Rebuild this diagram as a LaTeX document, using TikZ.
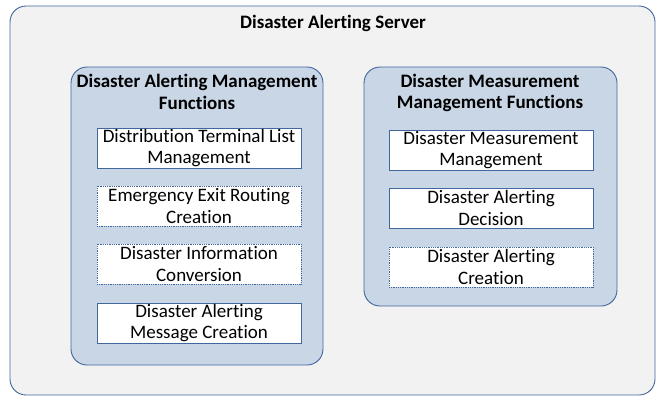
\documentclass[tikz,border=0pt]{standalone}
\usepackage{fontspec}
\setmainfont{Carlito}[Ligatures={NoCommon}]
\usepackage{xcolor}
\usepackage{tikz}
\usetikzlibrary{positioning}
\definecolor{EdgeBlue}{HTML}{41679C}
\definecolor{PanelBlue}{HTML}{C9D6E6}
\definecolor{ServerGray}{HTML}{F2F2F2}

\tikzset{
  server/.style={draw=EdgeBlue, fill=ServerGray, rounded corners=16pt, line width=0.9pt},
  panel/.style={draw=EdgeBlue, fill=PanelBlue, rounded corners=16pt, line width=0.9pt},
  fnbox/.style={draw=EdgeBlue, fill=white, line width=0.8pt, minimum width=204pt,
    minimum height=40pt, inner sep=0pt, align=center},
  fnboxdot/.style={fnbox, densely dotted},
  heading/.style={font=\fontsize{19}{21.5}\selectfont\bfseries, align=center, inner sep=0pt}
}

\begin{document}
\begin{tikzpicture}[x=1pt, y=-1pt, font=\fontsize{19}{21.5}\selectfont]
    \useasboundingbox (0,0) rectangle (657,397);
    % outer server
    \draw[server] (10,6) rectangle (655,395);
    \node[heading] (srv) at (333,23) {Disaster Alerting Server};
    % left panel
    \draw[panel] (71,67) rectangle (323,365);
    \node[heading] (almgmt) at (197,92) {Disaster Alerting Management\\Functions};
    \node[fnbox] (termlist) at (199,148) {Distribution Terminal List\\Management};
    \node[fnboxdot] (exitroute) at (199,206) {Emergency Exit Routing\\Creation};
    \node[fnboxdot] (infoconv) at (199,264) {Disaster Information\\Conversion};
    \node[fnbox] (msgcreate) at (199,323) {Disaster Alerting\\Message Creation};
    % right panel
    \draw[panel] (364,67) rectangle (617,306);
    \node[heading] (msmgmt) at (490,93) {Disaster Measurement\\Management Functions};
    \node[fnbox] (measure) at (491,150) {Disaster Measurement\\Management};
    \node[fnbox] (decision) at (491,208) {Disaster Alerting\\Decision};
    \node[fnboxdot] (alcreate) at (491,267) {Disaster Alerting\\Creation};
  \end{tikzpicture}
\end{document}
